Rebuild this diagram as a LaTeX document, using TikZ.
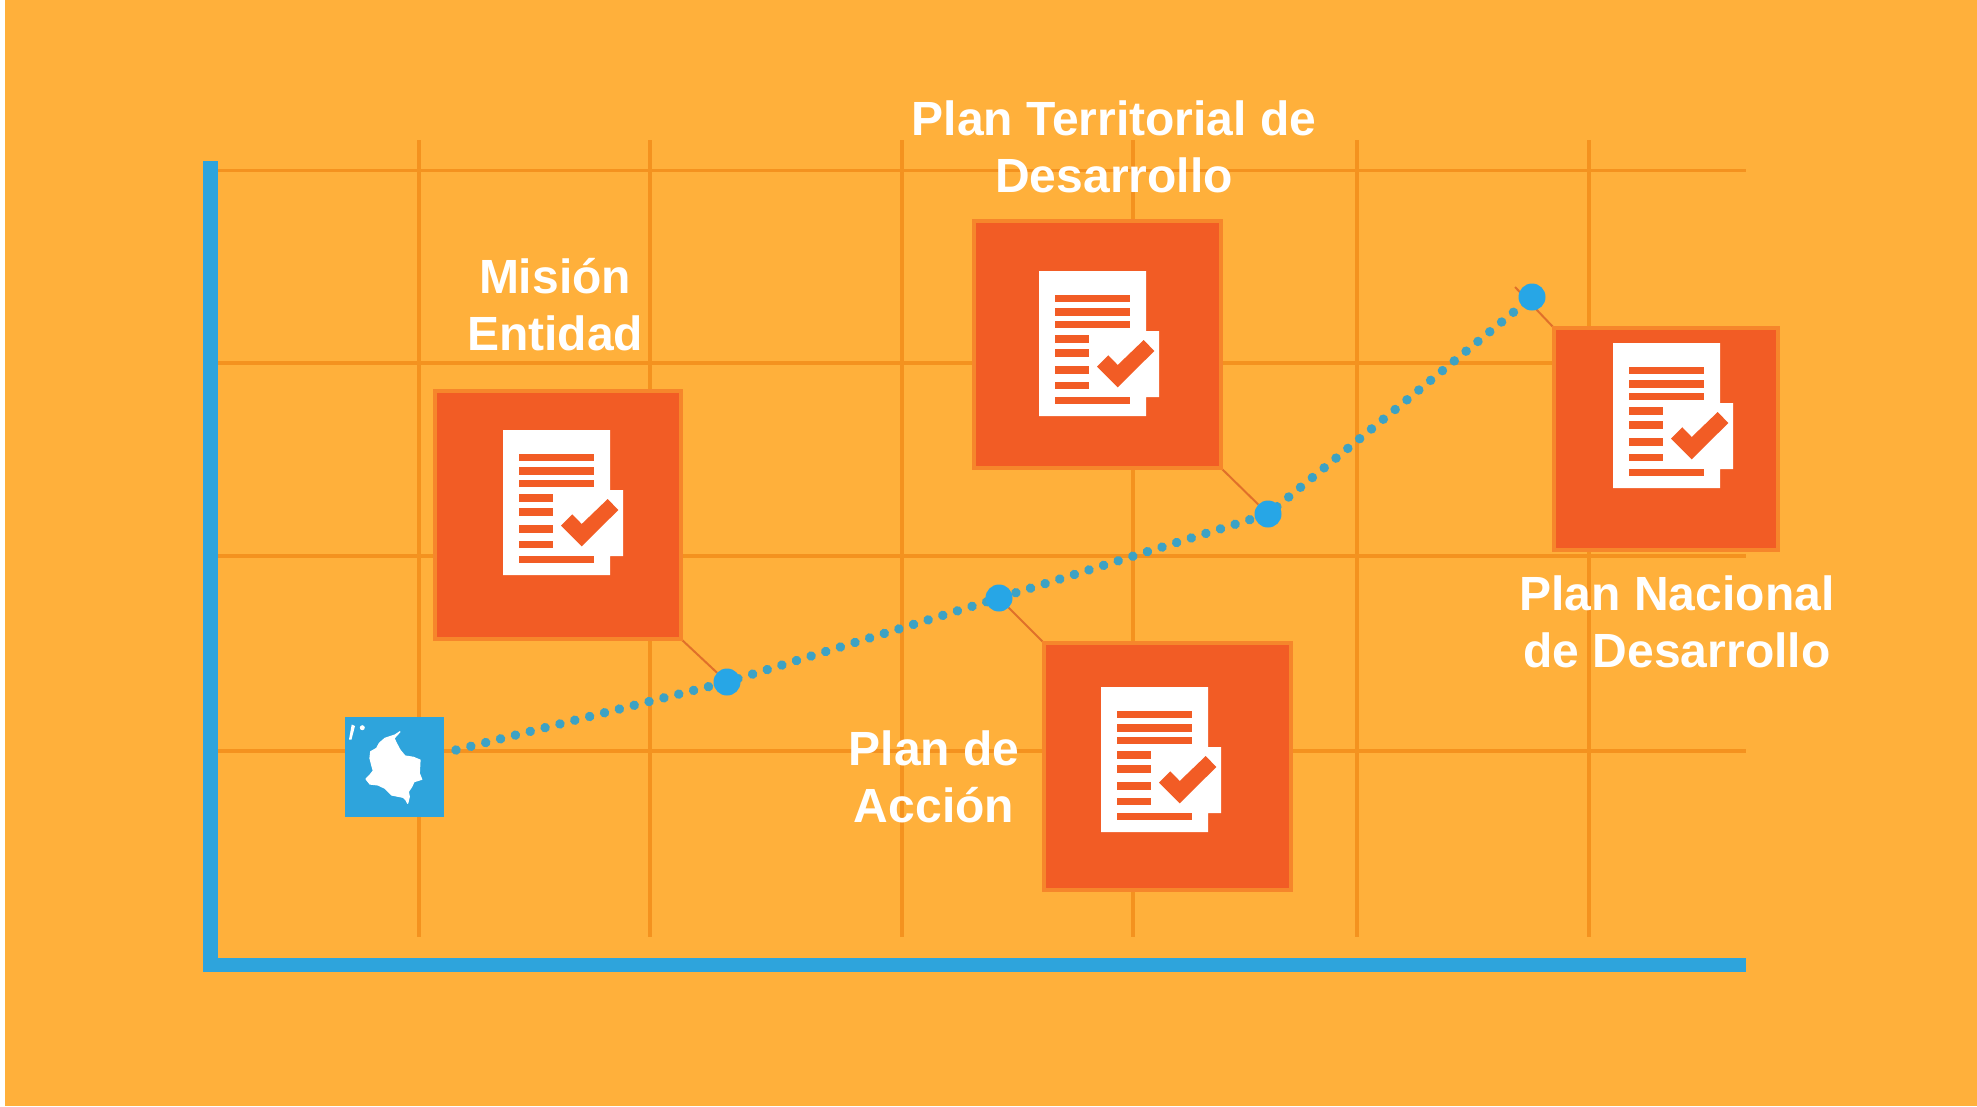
\documentclass[tikz,border=0pt]{standalone}
\usetikzlibrary{backgrounds}
\usepackage{fontspec}
\setmainfont{Liberation Sans}
\definecolor{bgor}{HTML}{FFB03B}
\definecolor{gridor}{HTML}{F4921F}
\definecolor{boxor}{HTML}{F25C25}
\definecolor{boxedge}{HTML}{F6862B}
\definecolor{axisb}{HTML}{2EA4DC}
\definecolor{dotb}{HTML}{3DA2C4}
\definecolor{nodeb}{HTML}{27A6E6}
\definecolor{leader}{HTML}{E0702A}
\tikzset{
  x=1pt,y=-1pt,
  gridline/.style={draw=gridor,line width=3.5},
  axisline/.style={draw=axisb,line width=14.5},
  docbox/.style={rectangle,draw=boxedge,fill=boxor,line width=4,inner sep=0,outer sep=0},
  mapbox/.style={rectangle,fill=axisb,inner sep=0,outer sep=0,minimum width=99,minimum height=100},
  pt/.style={circle,fill=nodeb,inner sep=0,outer sep=0,minimum size=27},
  leaderline/.style={draw=leader,line width=2},
  dotline/.style={draw=dotb,line width=9.5,line cap=round,dash pattern=on 0.01pt off 15.3pt},
  lbl/.style={text=white,font=\fontsize{48}{57}\selectfont\bfseries,align=center,inner sep=0,anchor=base},
  docicon/.pic={
    \fill[white] (0,0) -- (107,0) -- (107,60) -- (120,60) -- (120,126) -- (107,126) -- (107,145) -- (0,145) -- cycle;
    \foreach \yy in {27.3,41,53.7,129.7}
      \draw[boxor,line width=7.5] (16,\yy) -- (91,\yy);
    \foreach \yy in {68,82,99,114.3}
      \draw[boxor,line width=7.5] (16,\yy) -- (50,\yy);
    \fill[boxor] (58,95.7) -- (69.3,84.3) -- (78.7,94) -- (104.7,69) -- (115.3,80) -- (78.7,116.3) -- cycle;
  }
}
\begin{document}
\begin{tikzpicture}
\useasboundingbox (0,0) rectangle (1977,1106);
% anchors of the trend line
\coordinate (dstart) at (456,750);
\coordinate (dend) at (1544,282);
\coordinate (lead4) at (1515,287);
\node[pt] (p1) at (727,682) {};
\node[pt] (p2) at (999,598) {};
\node[pt] (p3) at (1268,514) {};
\node[pt] (p4) at (1532,297) {};
% boxes
\node[docbox,minimum width=246,minimum height=248] (b1) at (558,515) {};
\node[docbox,minimum width=247,minimum height=247] (b2) at (1097.5,344.5) {};
\node[docbox,minimum width=224,minimum height=222] (b3) at (1666,439) {};
\node[docbox,minimum width=247,minimum height=247] (b4) at (1167.5,766.5) {};
% icons
\pic at (503,430) {docicon};
\pic at (1039,271) {docicon};
\pic at (1613,343) {docicon};
\pic at (1101,687) {docicon};
% map
\node[mapbox] (mapb) at (394.5,767) {};
\filldraw[white,line width=1.2,line join=round] (400,731.7) -- (395,735) -- (385,738.3) -- (379.3,743.3) -- (376.7,748.3) -- (370.7,751.7) -- (370,758.3) -- (371.7,765) -- (373.3,770.7) -- (370,775) -- (366,779) -- (370,784) -- (378.3,785) -- (385,788.3) -- (391.7,795) -- (403.3,797.3) -- (406,800) -- (407.7,803.3) -- (409.3,796.7) -- (408.3,791.7) -- (411.7,786.7) -- (414,781.7) -- (421.7,779.3) -- (419.3,773.3) -- (420,760) -- (413.3,757.3) -- (405,756) -- (400,750) -- (397.3,745) -- (394,738.3) -- cycle;
\fill[white] (351.7,724.5) -- (349,739.5) -- (351.5,739.5) -- (355,726) -- cycle;
\fill[white] (362.3,727.7) circle (2.5);
% labels
\node[lbl] (t1) at (555,350) {Misión\\Entidad};
\node[lbl] (t2) at (1114,192.5) {Plan Territorial de\\Desarrollo};
\node[lbl] (t3) at (1677,667) {Plan Nacional\\de Desarrollo};
\node[lbl] (t4) at (934,822) {Plan de\\Acción};
\begin{scope}[on background layer]
\fill[white] (0,0) rectangle (1977,1106);
\fill[bgor] (5,0) rectangle (1977,1106);
% grid
\foreach \gx in {419,650,902,1133,1357,1589}
  \draw[gridline] (\gx,140) -- (\gx,937);
\foreach \gy in {170.5,363,556,751}
  \draw[gridline] (218,\gy) -- (1746,\gy);
% axes
\draw[axisline] (210.5,161) -- (210.5,972);
\draw[axisline] (203,965) -- (1746,965);
% connectors
\draw[leaderline] (b1.south east) -- (p1);
\draw[leaderline] (p2) -- (b4.north west);
\draw[leaderline] (b2.south east) -- (p3);
\draw[leaderline] (lead4) -- (b3.north west);
\draw[dotline] (dstart) -- (p1.center) -- (p2.center) -- (p3.center) -- (p4.center) -- (dend);
\end{scope}
\end{tikzpicture}
\end{document}
